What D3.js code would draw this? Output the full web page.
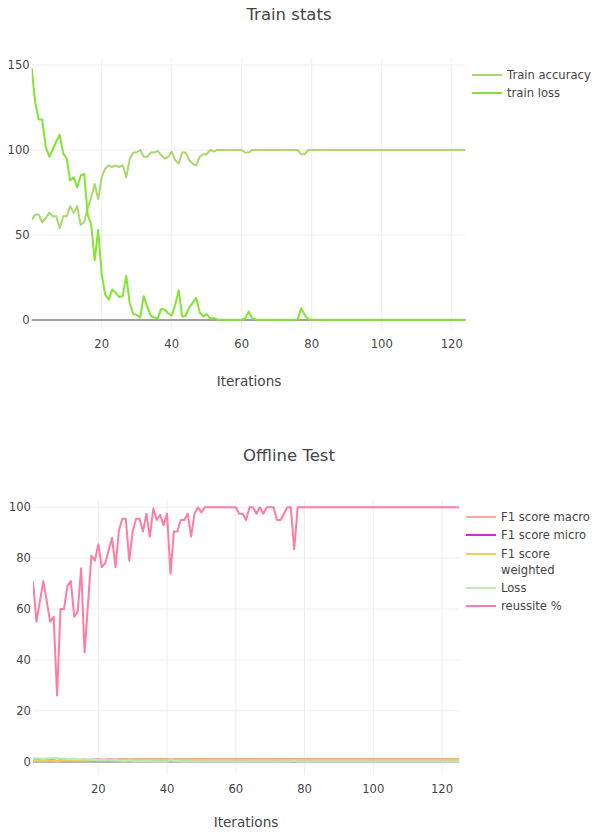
<!DOCTYPE html>
<html>
<head>
<meta charset="utf-8">
<script src="https://cdn.jsdelivr.net/npm/d3@7"></script>
<style>
  body { margin: 0; background: #fff; }
  text { font-family: "DejaVu Sans", verdana, arial, sans-serif; fill: #444; }
</style>
</head>
<body>
<div id="chart"></div>
<script>
// train stats, iterations 0..124
const trainAccuracy = [59, 62, 62, 57.5, 60, 63, 61, 61, 54, 61, 61, 67, 63, 67, 56, 57.5, 66, 72, 80, 71,
  84, 89, 91, 90, 91, 90, 91, 84, 94.5, 98.5, 98.5, 100, 96, 96, 98.5, 98.5, 99.5, 97, 95, 96,
  99, 94, 92, 98.5, 98.5, 94, 92, 91, 96, 97.5, 97.5, 100, 99, 100, 100, 100, 100, 100, 100, 100,
  100, 98.5, 98.5, 100, 100, 100, 100, 100, 100, 100, 100, 100, 100, 100, 100, 100, 100, 97.5, 97.5, 100,
  100, 100, 100, 100, 100, 100, 100, 100, 100, 100, 100, 100, 100, 100, 100, 100, 100, 100, 100, 100,
  100, 100, 100, 100, 100, 100, 100, 100, 100, 100, 100, 100, 100, 100, 100, 100, 100, 100, 100, 100,
  100, 100, 100, 100, 100];
const trainLoss = [148, 128, 118, 118, 102, 96, 100, 105, 109, 98, 95, 82, 84, 78, 85, 86, 62, 56, 35, 53,
  27, 15, 12, 18, 16, 13.5, 14, 26, 10, 3.5, 3, 1.5, 14, 8, 2.5, 1.5, 1, 6.5, 6, 4,
  2.5, 9, 17.5, 2, 2.5, 7.5, 10, 13, 4.5, 2, 3.5, 1, 1, 0.3, 0.2, 0.2, 0.1, 0.1, 0.1, 0.1,
  0.2, 1, 5, 1, 0.3, 0.1, 0.1, 0.1, 0.1, 0.1, 0.1, 0.1, 0.1, 0.1, 0.1, 0.1, 0.3, 7, 3, 0.5,
  0.1, 0.1, 0.1, 0.1, 0.1, 0.1, 0.1, 0.1, 0.1, 0.1, 0.1, 0.1, 0.1, 0.1, 0.1, 0.1, 0.1, 0.1, 0.1, 0.1,
  0.1, 0.1, 0.1, 0.1, 0.1, 0.1, 0.1, 0.1, 0.1, 0.1, 0.1, 0.1, 0.1, 0.1, 0.1, 0.1, 0.1, 0.1, 0.1, 0.1,
  0.1, 0.1, 0.1, 0.1, 0.1];

// offline test, iterations 1..125
const reussite = [71, 55, 63, 71, 63, 55, 57, 26, 60, 60, 69, 71, 57, 59, 76, 43, 62, 81, 79, 85.5,
  76.5, 78, 83, 88, 76.5, 91, 95.5, 95.5, 79, 90.5, 95.5, 95.5, 90.5, 97.5, 88.5, 99.5, 95, 97, 93, 97.5,
  74, 90.5, 90.5, 95, 95, 97.5, 88.5, 97.5, 100, 98, 100, 100, 100, 100, 100, 100, 100, 100, 100, 100,
  97.5, 97.5, 95, 100, 100, 97.5, 100, 97.5, 100, 100, 100, 95, 95, 97.5, 100, 100, 83.5, 100, 100, 100,
  100, 100, 100, 100, 100, 100, 100, 100, 100, 100, 100, 100, 100, 100, 100, 100, 100, 100, 100, 100,
  100, 100, 100, 100, 100, 100, 100, 100, 100, 100, 100, 100, 100, 100, 100, 100, 100, 100, 100, 100,
  100, 100, 100, 100, 100];
const f1Macro = [0.25, 0.2, 0.3, 0.35, 0.3, 0.2, 0.25, 0.1, 0.3, 0.3, 0.4, 0.4, 0.3, 0.35, 0.5, 0.25, 0.4, 0.6, 0.55, 0.65,
  0.55, 0.6, 0.65, 0.7, 0.55, 0.8, 0.9, 0.9, 0.6, 0.8, 0.9, 0.9, 0.8, 0.95, 0.75, 0.99, 0.9, 0.95, 0.85, 0.95,
  0.5, 0.8, 0.8, 0.9, 0.9, 0.95, 0.75, 0.95, 1, 0.96, 1, 1, 1, 1, 1, 1, 1, 1, 1, 1,
  0.95, 0.95, 0.9, 1, 1, 0.95, 1, 0.95, 1, 1, 1, 0.9, 0.9, 0.95, 1, 1, 0.6, 1, 1, 1,
  1, 1, 1, 1, 1, 1, 1, 1, 1, 1, 1, 1, 1, 1, 1, 1, 1, 1, 1, 1,
  1, 1, 1, 1, 1, 1, 1, 1, 1, 1, 1, 1, 1, 1, 1, 1, 1, 1, 1, 1,
  1, 1, 1, 1, 1];
const f1Micro = [0.71, 0.55, 0.63, 0.71, 0.63, 0.55, 0.57, 0.26, 0.6, 0.6, 0.69, 0.71, 0.57, 0.59, 0.76, 0.43, 0.62, 0.81, 0.79, 0.86,
  0.77, 0.78, 0.83, 0.88, 0.77, 0.91, 0.96, 0.96, 0.79, 0.91, 0.96, 0.96, 0.91, 0.98, 0.89, 1, 0.95, 0.97, 0.93, 0.98,
  0.74, 0.91, 0.91, 0.95, 0.95, 0.98, 0.89, 0.98, 1, 0.98, 1, 1, 1, 1, 1, 1, 1, 1, 1, 1,
  0.98, 0.98, 0.95, 1, 1, 0.98, 1, 0.98, 1, 1, 1, 0.95, 0.95, 0.98, 1, 1, 0.84, 1, 1, 1,
  1, 1, 1, 1, 1, 1, 1, 1, 1, 1, 1, 1, 1, 1, 1, 1, 1, 1, 1, 1,
  1, 1, 1, 1, 1, 1, 1, 1, 1, 1, 1, 1, 1, 1, 1, 1, 1, 1, 1, 1,
  1, 1, 1, 1, 1];
const f1Weighted = [0.65, 0.45, 0.55, 0.65, 0.55, 0.45, 0.5, 0.15, 0.5, 0.55, 0.6, 0.65, 0.5, 0.5, 0.7, 0.35, 0.55, 0.75, 0.75, 0.8,
  0.7, 0.75, 0.8, 0.85, 0.7, 0.9, 0.95, 0.95, 0.75, 0.9, 0.95, 0.95, 0.9, 0.97, 0.87, 1, 0.95, 0.97, 0.92, 0.97,
  0.7, 0.9, 0.9, 0.95, 0.95, 0.97, 0.87, 0.97, 1, 0.98, 1, 1, 1, 1, 1, 1, 1, 1, 1, 1,
  0.97, 0.97, 0.94, 1, 1, 0.97, 1, 0.97, 1, 1, 1, 0.94, 0.94, 0.97, 1, 1, 0.8, 1, 1, 1,
  1, 1, 1, 1, 1, 1, 1, 1, 1, 1, 1, 1, 1, 1, 1, 1, 1, 1, 1, 1,
  1, 1, 1, 1, 1, 1, 1, 1, 1, 1, 1, 1, 1, 1, 1, 1, 1, 1, 1, 1,
  1, 1, 1, 1, 1];
const testLoss = [1.3, 1.4, 1.3, 1.2, 1.3, 1.4, 1.35, 1.5, 1.3, 1.2, 1.1, 1.1, 1.2, 1.1, 0.9, 1.2, 1.0, 0.7, 0.7, 0.6,
  0.7, 0.6, 0.55, 0.45, 0.6, 0.35, 0.25, 0.25, 0.5, 0.3, 0.2, 0.2, 0.3, 0.15, 0.3, 0.08, 0.2, 0.12, 0.2, 0.12,
  0.6, 0.3, 0.3, 0.2, 0.18, 0.1, 0.3, 0.1, 0.05, 0.07, 0.03, 0.03, 0.03, 0.03, 0.03, 0.03, 0.03, 0.03, 0.03, 0.03,
  0.08, 0.08, 0.12, 0.03, 0.03, 0.08, 0.03, 0.08, 0.03, 0.03, 0.03, 0.12, 0.12, 0.08, 0.03, 0.03, 0.4, 0.03, 0.03, 0.03,
  0.03, 0.03, 0.03, 0.03, 0.03, 0.03, 0.03, 0.03, 0.03, 0.03, 0.03, 0.03, 0.03, 0.03, 0.03, 0.03, 0.03, 0.03, 0.03, 0.03,
  0.03, 0.03, 0.03, 0.03, 0.03, 0.03, 0.03, 0.03, 0.03, 0.03, 0.03, 0.03, 0.03, 0.03, 0.03, 0.03, 0.03, 0.03, 0.03, 0.03,
  0.03, 0.03, 0.03, 0.03, 0.03];

const xTicks = [20, 40, 60, 80, 100, 120];
const trainYTicks = [0, 50, 100, 150];
const testYTicks = [0, 20, 40, 60, 80, 100];

const svg = d3.select("#chart").append("svg")
  .attr("width", 592)
  .attr("height", 832);

function renderPanel(cfg) {
  const g = svg.append("g");
  const p = cfg.plot;

  const x = d3.scaleLinear().domain(cfg.xDomain).range(cfg.xRange);
  const y = d3.scaleLinear().domain(cfg.yDomain).range(cfg.yRange);

  g.append("clipPath").attr("id", "clip-" + cfg.id)
    .append("rect")
    .attr("x", p.left).attr("y", p.top)
    .attr("width", p.right - p.left).attr("height", p.bottom - p.top);

  // grid
  g.selectAll("line.vgrid").data(cfg.xTicks).enter().append("line")
    .attr("x1", d => x(d)).attr("x2", d => x(d))
    .attr("y1", p.top).attr("y2", p.bottom)
    .attr("stroke", "#eee").attr("stroke-width", 1);
  g.selectAll("line.hgrid").data(cfg.yTicks.filter(d => d != 0)).enter().append("line")
    .attr("x1", p.left).attr("x2", p.right)
    .attr("y1", d => y(d)).attr("y2", d => y(d))
    .attr("stroke", "#eee").attr("stroke-width", 1);
  g.append("line")
    .attr("x1", p.left).attr("x2", p.right)
    .attr("y1", y(0)).attr("y2", y(0))
    .attr("stroke", "#a0a0a0").attr("stroke-width", 2);

  // tick labels
  g.selectAll("text.xt").data(cfg.xTicks).enter().append("text")
    .attr("x", d => x(d)).attr("y", p.bottom + 18)
    .attr("text-anchor", "middle").attr("font-size", 11.6)
    .text(d => d);
  g.selectAll("text.yt").data(cfg.yTicks).enter().append("text")
    .attr("x", p.left - 2).attr("y", d => y(d)).attr("dy", "0.35em")
    .attr("text-anchor", "end").attr("font-size", 11.6)
    .text(d => d);

  // lines
  const line = d3.line()
    .x(d => x(d.x))
    .y(d => y(d.y));
  const lines = g.append("g").attr("clip-path", "url(#clip-" + cfg.id + ")");
  cfg.series.forEach(s => {
    const pts = s.values.map((v, i) => ({x: cfg.xDomain[0] + i, y: v}));
    lines.append("path")
      .datum(pts)
      .attr("fill", "none")
      .attr("stroke", s.color)
      .attr("stroke-width", 2)
      .attr("stroke-linejoin", "round")
      .attr("d", line);
  });

  // titles
  g.append("text")
    .attr("x", cfg.titleX).attr("y", cfg.titleY)
    .attr("text-anchor", "middle").attr("font-size", 16.5)
    .text(cfg.title);
  g.append("text")
    .attr("x", cfg.axisTitleX).attr("y", cfg.axisTitleY)
    .attr("text-anchor", "middle").attr("font-size", 13.6)
    .text("Iterations");

  // legend
  const leg = g.selectAll("g.legend").data(cfg.series).enter().append("g")
    .attr("transform", d => "translate(" + cfg.legend.x + "," + d.legendY + ")");
  leg.append("line")
    .attr("x1", 0).attr("x2", 30).attr("y1", 0).attr("y2", 0)
    .attr("stroke", d => d.color).attr("stroke-width", 2);
  leg.append("text")
    .attr("x", 35).attr("font-size", 11.6)
    .selectAll("tspan").data(d => d.label).enter().append("tspan")
    .attr("x", 35)
    .attr("y", (d, i) => i * 16)
    .attr("dy", "0.35em")
    .text(d => d);
}

renderPanel({
  id: "train",
  title: "Train stats", titleX: 289, titleY: 20,
  axisTitleX: 249, axisTitleY: 386,
  plot: {left: 31.7, right: 465.7, top: 58, bottom: 330},
  xDomain: [0, 124], xRange: [31.7, 465.7],
  yDomain: [0, 150], yRange: [320, 65],
  xTicks: xTicks, yTicks: trainYTicks,
  legend: {x: 472},
  series: [
    {label: ["Train accuracy"], values: trainAccuracy, color: "#a9d86e", legendY: 75},
    {label: ["train loss"], values: trainLoss, color: "#82e534", legendY: 93}
  ]
});

renderPanel({
  id: "test",
  title: "Offline Test", titleX: 289, titleY: 461,
  axisTitleX: 246, axisTitleY: 827,
  plot: {left: 33, right: 459.2, top: 500, bottom: 775},
  xDomain: [1, 125], xRange: [33, 459.2],
  yDomain: [0, 100], yRange: [761.7, 507.3],
  xTicks: xTicks, yTicks: testYTicks,
  legend: {x: 466},
  series: [
    {label: ["F1 score macro"], values: f1Macro, color: "#f7a8a0", legendY: 517},
    {label: ["F1 score micro"], values: f1Micro, color: "#c930c9", legendY: 535},
    {label: ["F1 score", "weighted"], values: f1Weighted, color: "#ecd05a", legendY: 554},
    {label: ["Loss"], values: testLoss, color: "#b9eeb0", legendY: 588},
    {label: ["reussite %"], values: reussite, color: "#ff7ca3", legendY: 606}
  ]
});
</script>
</body>
</html>
